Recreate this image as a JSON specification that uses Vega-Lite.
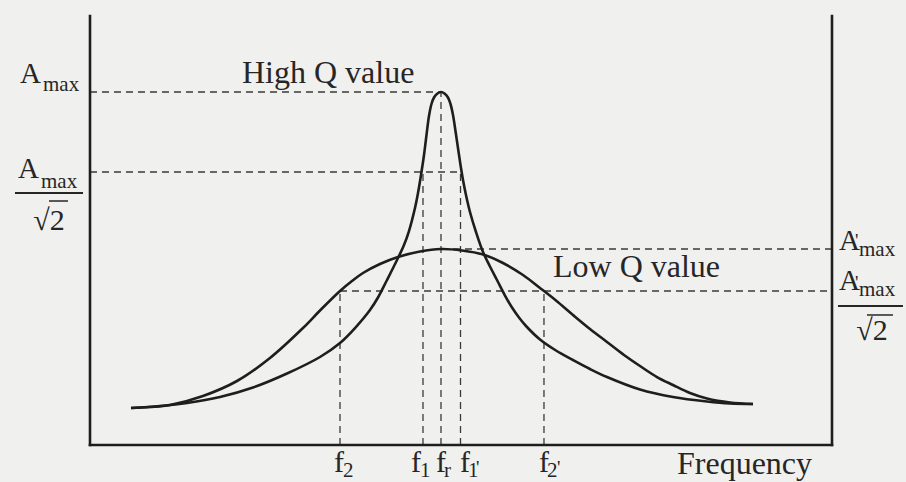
{
  "$schema": "https://vega.github.io/schema/vega-lite/v6.json",
  "width": 742,
  "height": 429,
  "autosize": {"type": "none"},
  "padding": {"left": 90, "top": 16, "right": 74, "bottom": 37},
  "background": "#f0f0ee",
  "config": {"view": {"stroke": null}},
  "datasets": {
    "curves": [
      {"curve": "High Q", "f": 0.1168, "A": 0.1048},
      {"curve": "High Q", "f": 0.1994, "A": 0.1105},
      {"curve": "High Q", "f": 0.2764, "A": 0.1190},
      {"curve": "High Q", "f": 0.3704, "A": 0.1360},
      {"curve": "High Q", "f": 0.4644, "A": 0.1629},
      {"curve": "High Q", "f": 0.5613, "A": 0.2025},
      {"curve": "High Q", "f": 0.6553, "A": 0.2493},
      {"curve": "High Q", "f": 0.7123, "A": 0.2890},
      {"curve": "High Q", "f": 0.7550, "A": 0.3314},
      {"curve": "High Q", "f": 0.7977, "A": 0.3824},
      {"curve": "High Q", "f": 0.8205, "A": 0.4178},
      {"curve": "High Q", "f": 0.8462, "A": 0.4674},
      {"curve": "High Q", "f": 0.8775, "A": 0.5297},
      {"curve": "High Q", "f": 0.8946, "A": 0.5666},
      {"curve": "High Q", "f": 0.9088, "A": 0.6062},
      {"curve": "High Q", "f": 0.9259, "A": 0.6714},
      {"curve": "High Q", "f": 0.9345, "A": 0.7139},
      {"curve": "High Q", "f": 0.9444, "A": 0.7734},
      {"curve": "High Q", "f": 0.9516, "A": 0.8215},
      {"curve": "High Q", "f": 0.9587, "A": 0.8782},
      {"curve": "High Q", "f": 0.9658, "A": 0.9320},
      {"curve": "High Q", "f": 0.9729, "A": 0.9660},
      {"curve": "High Q", "f": 0.9801, "A": 0.9844},
      {"curve": "High Q", "f": 0.9900, "A": 0.9958},
      {"curve": "High Q", "f": 1.0000, "A": 1.0000},
      {"curve": "High Q", "f": 1.0100, "A": 0.9958},
      {"curve": "High Q", "f": 1.0199, "A": 0.9844},
      {"curve": "High Q", "f": 1.0271, "A": 0.9660},
      {"curve": "High Q", "f": 1.0342, "A": 0.9348},
      {"curve": "High Q", "f": 1.0413, "A": 0.8895},
      {"curve": "High Q", "f": 1.0484, "A": 0.8414},
      {"curve": "High Q", "f": 1.0556, "A": 0.7932},
      {"curve": "High Q", "f": 1.0627, "A": 0.7507},
      {"curve": "High Q", "f": 1.0712, "A": 0.7082},
      {"curve": "High Q", "f": 1.0826, "A": 0.6601},
      {"curve": "High Q", "f": 1.0997, "A": 0.6034},
      {"curve": "High Q", "f": 1.1197, "A": 0.5467},
      {"curve": "High Q", "f": 1.1396, "A": 0.5057},
      {"curve": "High Q", "f": 1.1595, "A": 0.4674},
      {"curve": "High Q", "f": 1.1823, "A": 0.4235},
      {"curve": "High Q", "f": 1.2023, "A": 0.3895},
      {"curve": "High Q", "f": 1.2222, "A": 0.3612},
      {"curve": "High Q", "f": 1.2422, "A": 0.3371},
      {"curve": "High Q", "f": 1.2821, "A": 0.2989},
      {"curve": "High Q", "f": 1.3276, "A": 0.2677},
      {"curve": "High Q", "f": 1.3761, "A": 0.2408},
      {"curve": "High Q", "f": 1.4245, "A": 0.2153},
      {"curve": "High Q", "f": 1.4729, "A": 0.1926},
      {"curve": "High Q", "f": 1.5670, "A": 0.1572},
      {"curve": "High Q", "f": 1.6610, "A": 0.1360},
      {"curve": "High Q", "f": 1.7578, "A": 0.1232},
      {"curve": "High Q", "f": 1.8234, "A": 0.1176},
      {"curve": "High Q", "f": 1.8889, "A": 0.1161},
      {"curve": "Low Q", "f": 0.1168, "A": 0.1048},
      {"curve": "Low Q", "f": 0.1709, "A": 0.1076},
      {"curve": "Low Q", "f": 0.2279, "A": 0.1133},
      {"curve": "Low Q", "f": 0.3219, "A": 0.1388},
      {"curve": "Low Q", "f": 0.4188, "A": 0.1813},
      {"curve": "Low Q", "f": 0.5128, "A": 0.2465},
      {"curve": "Low Q", "f": 0.6068, "A": 0.3314},
      {"curve": "Low Q", "f": 0.6553, "A": 0.3810},
      {"curve": "Low Q", "f": 0.7123, "A": 0.4363},
      {"curve": "Low Q", "f": 0.7464, "A": 0.4646},
      {"curve": "Low Q", "f": 0.7778, "A": 0.4873},
      {"curve": "Low Q", "f": 0.8262, "A": 0.5127},
      {"curve": "Low Q", "f": 0.8775, "A": 0.5326},
      {"curve": "Low Q", "f": 0.9402, "A": 0.5482},
      {"curve": "Low Q", "f": 1.0000, "A": 0.5552},
      {"curve": "Low Q", "f": 1.0598, "A": 0.5510},
      {"curve": "Low Q", "f": 1.1197, "A": 0.5397},
      {"curve": "Low Q", "f": 1.1766, "A": 0.5156},
      {"curve": "Low Q", "f": 1.2336, "A": 0.4816},
      {"curve": "Low Q", "f": 1.2821, "A": 0.4448},
      {"curve": "Low Q", "f": 1.3276, "A": 0.4093},
      {"curve": "Low Q", "f": 1.3761, "A": 0.3683},
      {"curve": "Low Q", "f": 1.4245, "A": 0.3286},
      {"curve": "Low Q", "f": 1.4729, "A": 0.2918},
      {"curve": "Low Q", "f": 1.5214, "A": 0.2550},
      {"curve": "Low Q", "f": 1.5670, "A": 0.2238},
      {"curve": "Low Q", "f": 1.6154, "A": 0.1926},
      {"curve": "Low Q", "f": 1.6610, "A": 0.1700},
      {"curve": "Low Q", "f": 1.7094, "A": 0.1473},
      {"curve": "Low Q", "f": 1.7578, "A": 0.1317},
      {"curve": "Low Q", "f": 1.8234, "A": 0.1204},
      {"curve": "Low Q", "f": 1.8889, "A": 0.1161}
    ],
    "guides": [
      {"f": 0, "A": 1.0, "f2": 1.0, "A2": 1.0},
      {"f": 0, "A": 0.7734, "f2": 1.0556, "A2": 0.7734},
      {"f": 1.0, "A": 0, "f2": 1.0, "A2": 1.0},
      {"f": 0.9487, "A": 0, "f2": 0.9487, "A2": 0.7734},
      {"f": 1.0556, "A": 0, "f2": 1.0556, "A2": 0.7734},
      {"f": 1.0, "A": 0.5552, "f2": 2.114, "A2": 0.5552},
      {"f": 0.7123, "A": 0.4363, "f2": 2.114, "A2": 0.4363},
      {"f": 0.7123, "A": 0, "f2": 0.7123, "A2": 0.4363},
      {"f": 1.2934, "A": 0, "f2": 1.2934, "A2": 0.4363}
    ],
    "frame": [
      {"f": 0, "A": 0, "f2": 0, "A2": 1.2153},
      {"f": 0, "A": 0, "f2": 2.114, "A2": 0},
      {"f": 2.114, "A": 0, "f2": 2.114, "A2": 1.2153}
    ],
    "bars": [
      {"f": -0.2137, "A": 0.7139, "f2": -0.0199, "A2": 0.7139},
      {"f": 2.1311, "A": 0.3938, "f2": 2.3162, "A2": 0.3938}
    ],
    "overbars": [
      {"f": -0.1168, "A": 0.6912, "f2": -0.0627, "A2": 0.6912},
      {"f": 2.2137, "A": 0.3683, "f2": 2.2877, "A2": 0.3683}
    ],
    "captions": [
      {"t": "High Q value", "f": 0.4330, "A": 1.0255},
      {"t": "Low Q value", "f": 1.3191, "A": 0.4759},
      {"t": "Frequency", "f": 1.6724, "A": -0.0822}
    ],
    "amps": [
      {"t": "A", "f": -0.1994, "A": 1.0255},
      {"t": "A", "f": -0.2051, "A": 0.7564},
      {"t": "A", "f": 2.1339, "A": 0.5524},
      {"t": "A", "f": 2.1339, "A": 0.4391}
    ],
    "subs": [
      {"t": "max", "f": -0.1339, "A": 1.0028},
      {"t": "max", "f": -0.1396, "A": 0.7280},
      {"t": "max", "f": 2.1909, "A": 0.5354},
      {"t": "max", "f": 2.1909, "A": 0.4221},
      {"t": "2", "f": 0.7208, "A": -0.0907},
      {"t": "1", "f": 0.9402, "A": -0.0907},
      {"t": "r", "f": 1.0085, "A": -0.0907},
      {"t": "1", "f": 1.0769, "A": -0.0907},
      {"t": "2", "f": 1.3020, "A": -0.0907}
    ],
    "primes": [
      {"t": "'", "f": 2.1795, "A": 0.5623},
      {"t": "'", "f": 2.1795, "A": 0.4433},
      {"t": "'", "f": 1.0997, "A": -0.0822},
      {"t": "'", "f": 1.3305, "A": -0.0822}
    ],
    "roots": [
      {"t": "√2", "f": -0.1168, "A": 0.6091},
      {"t": "√2", "f": 2.2279, "A": 0.2975}
    ],
    "freqs": [
      {"t": "f", "f": 0.6952, "A": -0.0765},
      {"t": "f", "f": 0.9145, "A": -0.0765},
      {"t": "f", "f": 0.9858, "A": -0.0765},
      {"t": "f", "f": 1.0541, "A": -0.0765},
      {"t": "f", "f": 1.2792, "A": -0.0765}
    ]
  },
  "encoding": {
    "x": {"field": "f", "type": "quantitative", "scale": {"domain": [0, 2.114], "nice": false, "zero": false}, "axis": null},
    "y": {"field": "A", "type": "quantitative", "scale": {"domain": [0, 1.2153], "nice": false, "zero": false}, "axis": null}
  },
  "layer": [
    {
      "data": {"name": "guides"},
      "mark": {"type": "rule", "strokeDash": [7, 5], "strokeWidth": 1.3, "color": "#3a3a3a"},
      "encoding": {"x2": {"field": "f2"}, "y2": {"field": "A2"}}
    },
    {
      "data": {"name": "frame"},
      "mark": {"type": "rule", "strokeWidth": 2.6, "color": "#1e1e1e", "strokeCap": "square"},
      "encoding": {"x2": {"field": "f2"}, "y2": {"field": "A2"}}
    },
    {
      "data": {"name": "bars"},
      "mark": {"type": "rule", "strokeWidth": 2, "color": "#262626"},
      "encoding": {"x2": {"field": "f2"}, "y2": {"field": "A2"}}
    },
    {
      "data": {"name": "overbars"},
      "mark": {"type": "rule", "strokeWidth": 1.5, "color": "#262626"},
      "encoding": {"x2": {"field": "f2"}, "y2": {"field": "A2"}}
    },
    {
      "data": {"name": "curves"},
      "mark": {"type": "line", "interpolate": "catmull-rom", "strokeWidth": 2.6, "color": "#1e1e1e"},
      "encoding": {"detail": {"field": "curve"}}
    },
    {
      "data": {"name": "captions"},
      "mark": {"type": "text", "font": "Liberation Serif, DejaVu Serif, serif", "color": "#262626", "align": "left", "baseline": "alphabetic", "fontSize": 32},
      "encoding": {"text": {"field": "t"}}
    },
    {
      "data": {"name": "amps"},
      "mark": {"type": "text", "font": "Liberation Serif, DejaVu Serif, serif", "color": "#262626", "align": "left", "baseline": "alphabetic", "fontSize": 29},
      "encoding": {"text": {"field": "t"}}
    },
    {
      "data": {"name": "subs"},
      "mark": {"type": "text", "font": "Liberation Serif, DejaVu Serif, serif", "color": "#262626", "align": "left", "baseline": "alphabetic", "fontSize": 21},
      "encoding": {"text": {"field": "t"}}
    },
    {
      "data": {"name": "primes"},
      "mark": {"type": "text", "font": "Liberation Serif, DejaVu Serif, serif", "color": "#262626", "align": "left", "baseline": "alphabetic", "fontSize": 19},
      "encoding": {"text": {"field": "t"}}
    },
    {
      "data": {"name": "roots"},
      "mark": {"type": "text", "font": "Liberation Serif, DejaVu Serif, serif", "color": "#262626", "align": "center", "baseline": "alphabetic", "fontSize": 30},
      "encoding": {"text": {"field": "t"}}
    },
    {
      "data": {"name": "freqs"},
      "mark": {"type": "text", "font": "Liberation Serif, DejaVu Serif, serif", "color": "#262626", "align": "left", "baseline": "alphabetic", "fontSize": 30},
      "encoding": {"text": {"field": "t"}}
    }
  ]
}
